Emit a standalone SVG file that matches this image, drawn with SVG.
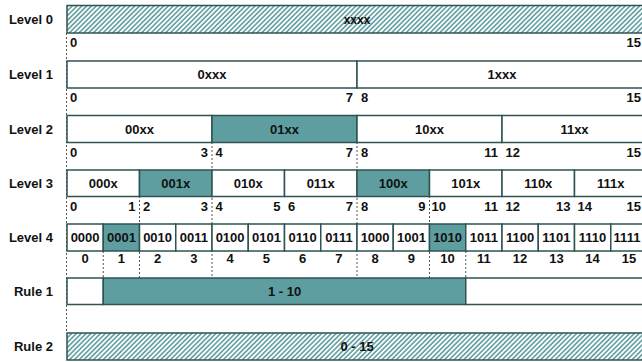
<svg xmlns="http://www.w3.org/2000/svg" width="642" height="362" viewBox="0 0 642 362">
  <style>
    text { font-family: "Liberation Sans", Arial, sans-serif; font-weight: bold; font-size: 13px; fill: #111; }
    .lbl { text-anchor: end; }
    .mid { text-anchor: middle; }
    .end { text-anchor: end; }
    .cell { fill: #ffffff; stroke: #2f5353; stroke-width: 1.5; }
    .on { fill: #5f9ea0; stroke: #2f5353; stroke-width: 1.5; }
    .hatch { fill: url(#hatch); stroke: #2f5353; stroke-width: 1.5; }
    .small { font-size: 12px; }
    .dot { stroke: #555; stroke-width: 1; stroke-dasharray: 2 2; fill: none; }
  </style>
  <defs>
    <pattern id="hatch" width="3.4" height="3.4" patternUnits="userSpaceOnUse" patternTransform="rotate(45)">
      <rect width="3.4" height="3.4" fill="#ffffff"/>
      <line x1="0.9" y1="0" x2="0.9" y2="3.4" stroke="#5f9ea0" stroke-width="1.6"/>
    </pattern>
  </defs>
  <rect width="642" height="362" fill="#ffffff"/>

  <!-- dotted guide lines -->
  <g id="connectors">
    <line class="dot" x1="66.5" y1="33" x2="66.5" y2="333"/>
    <line class="dot" x1="212" y1="142" x2="212" y2="278"/>
    <line class="dot" x1="357" y1="142" x2="357" y2="278"/>
    <line class="dot" x1="139.5" y1="196" x2="139.5" y2="278"/>
    <line class="dot" x1="429.5" y1="196" x2="429.5" y2="278"/>
    <line class="dot" x1="103.25" y1="251" x2="103.25" y2="278"/>
    <line class="dot" x1="465.75" y1="251" x2="465.75" y2="278"/>
  </g>

  <!-- Level 0 -->
  <g id="level0">
    <text class="lbl" x="53" y="23.5">Level 0</text>
    <rect class="hatch" x="67" y="5.5" width="580" height="27.5"/>
    <text class="mid small" x="357" y="23.5">xxxx</text>
    <text x="70" y="46.5">0</text>
    <text class="end" x="641" y="46.5">15</text>
  </g>

  <!-- Level 1 -->
  <g id="level1">
    <text class="lbl" x="53" y="78.5">Level 1</text>
    <rect class="cell" x="67" y="61" width="290" height="27"/>
    <rect class="cell" x="357" y="61" width="290" height="27"/>
    <text class="mid" x="212" y="79">0xxx</text>
    <text class="mid" x="502" y="79">1xxx</text>
    <text x="70" y="101.5">0</text>
    <text class="end" x="353" y="101.5">7</text>
    <text x="361" y="101.5">8</text>
    <text class="end" x="641" y="101.5">15</text>
  </g>

  <!-- Level 2 -->
  <g id="level2">
    <text class="lbl" x="53" y="133.5">Level 2</text>
    <rect class="cell" x="67" y="115.5" width="145" height="27"/>
    <rect class="on" x="212" y="115.5" width="145" height="27"/>
    <rect class="cell" x="357" y="115.5" width="145" height="27"/>
    <rect class="cell" x="502" y="115.5" width="145" height="27"/>
    <text class="mid" x="139.5" y="133.5">00xx</text>
    <text class="mid" x="284.5" y="133.5">01xx</text>
    <text class="mid" x="429.5" y="133.5">10xx</text>
    <text class="mid" x="574.5" y="133.5">11xx</text>
    <text x="70" y="156.5">0</text>
    <text class="end" x="208" y="156.5">3</text>
    <text x="215.5" y="156.5">4</text>
    <text class="end" x="353" y="156.5">7</text>
    <text x="361" y="156.5">8</text>
    <text class="end" x="498" y="156.5">11</text>
    <text x="505.5" y="156.5">12</text>
    <text class="end" x="641" y="156.5">15</text>
  </g>

  <!-- Level 3 -->
  <g id="level3">
    <text class="lbl" x="53" y="187.5">Level 3</text>
    <rect class="cell" x="67" y="170" width="72.5" height="26.5"/>
    <rect class="on" x="139.5" y="170" width="72.5" height="26.5"/>
    <rect class="cell" x="212" y="170" width="72.5" height="26.5"/>
    <rect class="cell" x="284.5" y="170" width="72.5" height="26.5"/>
    <rect class="on" x="357" y="170" width="72.5" height="26.5"/>
    <rect class="cell" x="429.5" y="170" width="72.5" height="26.5"/>
    <rect class="cell" x="502" y="170" width="72.5" height="26.5"/>
    <rect class="cell" x="574.5" y="170" width="72.5" height="26.5"/>
    <text class="mid" x="103.25" y="187.5">000x</text>
    <text class="mid" x="175.75" y="187.5">001x</text>
    <text class="mid" x="248.25" y="187.5">010x</text>
    <text class="mid" x="320.75" y="187.5">011x</text>
    <text class="mid" x="393.25" y="187.5">100x</text>
    <text class="mid" x="465.75" y="187.5">101x</text>
    <text class="mid" x="538.25" y="187.5">110x</text>
    <text class="mid" x="610.75" y="187.5">111x</text>
    <text x="70" y="210.5">0</text>
    <text class="end" x="135.5" y="210.5">1</text>
    <text x="143" y="210.5">2</text>
    <text class="end" x="208" y="210.5">3</text>
    <text x="215.5" y="210.5">4</text>
    <text class="end" x="280.5" y="210.5">5</text>
    <text x="288" y="210.5">6</text>
    <text class="end" x="353" y="210.5">7</text>
    <text x="361" y="210.5">8</text>
    <text class="end" x="425.5" y="210.5">9</text>
    <text x="431.5" y="210.5">10</text>
    <text class="end" x="498" y="210.5">11</text>
    <text x="505.5" y="210.5">12</text>
    <text class="end" x="570.5" y="210.5">13</text>
    <text x="577.5" y="210.5">14</text>
    <text class="end" x="641" y="210.5">15</text>
  </g>

  <!-- Level 4 -->
  <g id="level4">
    <text class="lbl" x="53" y="241.5">Level 4</text>
    <rect class="cell" x="67" y="224" width="36.25" height="27"/>
    <rect class="on" x="103.25" y="224" width="36.25" height="27"/>
    <rect class="cell" x="139.5" y="224" width="36.25" height="27"/>
    <rect class="cell" x="175.75" y="224" width="36.25" height="27"/>
    <rect class="cell" x="212" y="224" width="36.25" height="27"/>
    <rect class="cell" x="248.25" y="224" width="36.25" height="27"/>
    <rect class="cell" x="284.5" y="224" width="36.25" height="27"/>
    <rect class="cell" x="320.75" y="224" width="36.25" height="27"/>
    <rect class="cell" x="357" y="224" width="36.25" height="27"/>
    <rect class="cell" x="393.25" y="224" width="36.25" height="27"/>
    <rect class="on" x="429.5" y="224" width="36.25" height="27"/>
    <rect class="cell" x="465.75" y="224" width="36.25" height="27"/>
    <rect class="cell" x="502" y="224" width="36.25" height="27"/>
    <rect class="cell" x="538.25" y="224" width="36.25" height="27"/>
    <rect class="cell" x="574.5" y="224" width="36.25" height="27"/>
    <rect class="cell" x="610.75" y="224" width="36.25" height="27"/>
    <text class="mid" x="85.1" y="242">0000</text>
    <text class="mid" x="121.4" y="242">0001</text>
    <text class="mid" x="157.6" y="242">0010</text>
    <text class="mid" x="193.9" y="242">0011</text>
    <text class="mid" x="230.1" y="242">0100</text>
    <text class="mid" x="266.4" y="242">0101</text>
    <text class="mid" x="302.6" y="242">0110</text>
    <text class="mid" x="338.9" y="242">0111</text>
    <text class="mid" x="375.1" y="242">1000</text>
    <text class="mid" x="411.4" y="242">1001</text>
    <text class="mid" x="447.6" y="242">1010</text>
    <text class="mid" x="483.9" y="242">1011</text>
    <text class="mid" x="520.1" y="242">1100</text>
    <text class="mid" x="556.4" y="242">1101</text>
    <text class="mid" x="592.6" y="242">1110</text>
    <text class="mid" x="627" y="242">1111</text>
    <text class="mid" x="85.1" y="263">0</text>
    <text class="mid" x="121.4" y="263">1</text>
    <text class="mid" x="157.6" y="263">2</text>
    <text class="mid" x="193.9" y="263">3</text>
    <text class="mid" x="230.1" y="263">4</text>
    <text class="mid" x="266.4" y="263">5</text>
    <text class="mid" x="302.6" y="263">6</text>
    <text class="mid" x="338.9" y="263">7</text>
    <text class="mid" x="375.1" y="263">8</text>
    <text class="mid" x="411.4" y="263">9</text>
    <text class="mid" x="447.6" y="263">10</text>
    <text class="mid" x="483.9" y="263">11</text>
    <text class="mid" x="520.1" y="263">12</text>
    <text class="mid" x="556.4" y="263">13</text>
    <text class="mid" x="592.6" y="263">14</text>
    <text class="mid" x="628.9" y="263">15</text>
  </g>

  <!-- Rule 1 -->
  <g id="rule1">
    <text class="lbl" x="53" y="295.5">Rule 1</text>
    <rect class="cell" x="67" y="278" width="36.25" height="26.5"/>
    <rect class="on" x="103.25" y="278" width="362.5" height="26.5"/>
    <rect class="cell" x="465.75" y="278" width="181.25" height="26.5"/>
    <text class="mid" x="284.5" y="295.5">1 - 10</text>
  </g>

  <!-- Rule 2 -->
  <g id="rule2">
    <text class="lbl" x="53" y="350.5">Rule 2</text>
    <rect class="hatch" x="67" y="333" width="580" height="27"/>
    <text class="mid" x="357" y="350.5">0 - 15</text>
  </g>
</svg>
